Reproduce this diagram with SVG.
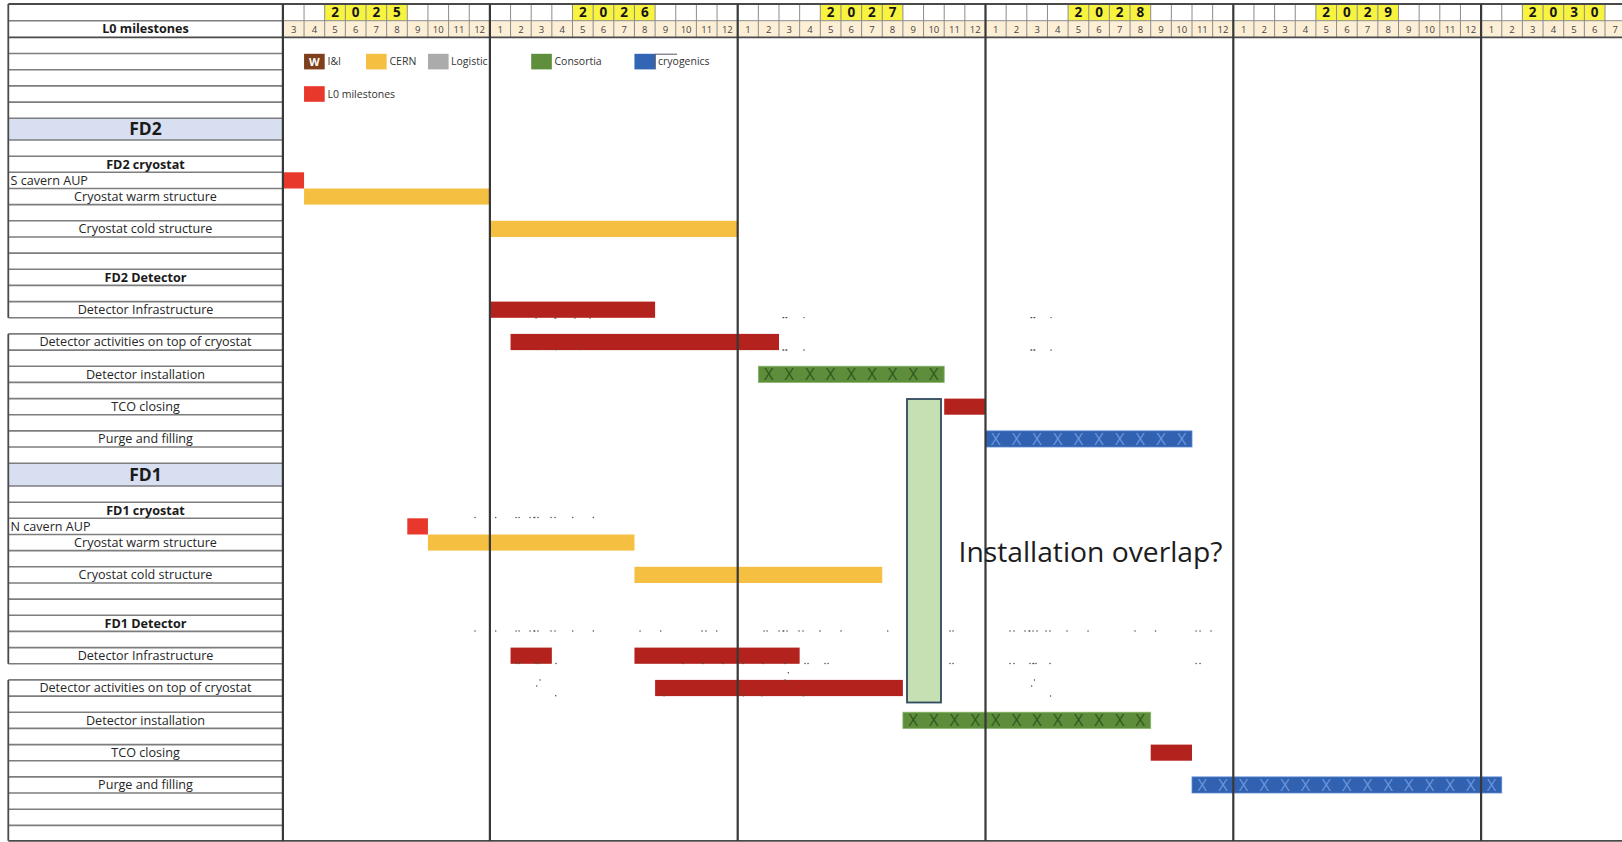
<svg xmlns="http://www.w3.org/2000/svg" width="1622" height="842" viewBox="0 0 1622 842">
<defs>
<style>
.t{font-family:'Open Sans','Liberation Sans',sans-serif;fill:#262626}
.lbl{font-size:12.6px;text-anchor:middle}
.lft{font-size:12.6px}
.b{font-weight:700;fill:#1a1a1a}
.fd{font-size:17.5px;font-weight:700;fill:#1a1a1a;text-anchor:middle}
.mo{font-size:9.5px;fill:#444444;text-anchor:middle}
.yr{font-size:13.5px;font-weight:700;fill:#151515;text-anchor:middle}
.lg{font-size:10.5px;fill:#333}
.xg{font-size:16.5px;text-anchor:middle;fill:#30591c}
.xb{font-size:16.5px;text-anchor:middle;fill:#6a96dc}
.hl{stroke:#7d7d7d;stroke-width:1.6;fill:none}
.hg{stroke:#8c8c8c;stroke-width:1;fill:none}
.dk{stroke:#4a4a4a;stroke-width:1.8;fill:none}
.yl{stroke:#383838;stroke-width:2.2;fill:none}
.yellow{fill:#f5bf42}
.red{fill:#e8372b}
.dred{fill:#b3221c}
.green{fill:#5e8e3c;stroke:#88b46c;stroke-width:0.8}
.blue{fill:#3161b1;stroke:#5d8ad3;stroke-width:0.8}
.dots{stroke:#4d4d4d;stroke-width:1.4;stroke-linecap:round;fill:none}
</style>
<clipPath id="clipLog"><rect x="440" y="50" width="49" height="25"/></clipPath>
</defs>
<rect x="0" y="0" width="1622" height="842" fill="#ffffff"/>

<g id="label-column">
<rect x="8.3" y="118.3" width="274.4" height="21.7" fill="#d7dff0"/>
<rect x="8.3" y="463.2" width="274.4" height="22.8" fill="#d7dff0"/>
<path class="hl" d="M8.3 20.7H282.7M8.3 53.5H282.7M8.3 69.7H282.7M8.3 85.9H282.7M8.3 102.1H282.7M8.3 118.3H282.7M8.3 140H282.7M8.3 156.2H282.7M8.3 172.3H282.7M8.3 188.5H282.7M8.3 204.6H282.7M8.3 220.8H282.7M8.3 237H282.7M8.3 253.1H282.7M8.3 269.3H282.7M8.3 285.4H282.7M8.3 301.6H282.7M8.3 317.8H282.7M8.3 333.9H282.7M8.3 350.1H282.7M8.3 366.2H282.7M8.3 382.4H282.7M8.3 398.6H282.7M8.3 414.7H282.7M8.3 430.9H282.7M8.3 447H282.7M8.3 463.2H282.7M8.3 486H282.7M8.3 502.2H282.7M8.3 518.3H282.7M8.3 534.5H282.7M8.3 550.6H282.7M8.3 566.8H282.7M8.3 583H282.7M8.3 599.1H282.7M8.3 615.3H282.7M8.3 631.4H282.7M8.3 647.6H282.7M8.3 663.8H282.7M8.3 679.9H282.7M8.3 696.1H282.7M8.3 712.2H282.7M8.3 728.4H282.7M8.3 744.6H282.7M8.3 760.7H282.7M8.3 776.9H282.7M8.3 793H282.7M8.3 809.2H282.7M8.3 825.4H282.7"/>
<path class="dk" d="M8.3 4V317.8M8.3 333.9V663.8M8.3 679.9V840.8"/>
<text class="t lbl b" x="145.5" y="33.2">L0 milestones</text>
<text class="t fd" x="145.5" y="135.3">FD2</text>
<text class="t lbl b" x="145.5" y="168.6">FD2 cryostat</text>
<text class="t lft" x="10.5" y="184.7">S cavern AUP</text>
<text class="t lbl" x="145.5" y="200.9">Cryostat warm structure</text>
<text class="t lbl" x="145.5" y="233.2">Cryostat cold structure</text>
<text class="t lbl b" x="145.5" y="281.7">FD2 Detector</text>
<text class="t lbl" x="145.5" y="314">Detector Infrastructure</text>
<text class="t lbl" x="145.5" y="346.3">Detector activities on top of cryostat</text>
<text class="t lbl" x="145.5" y="378.6">Detector installation</text>
<text class="t lbl" x="145.5" y="411">TCO closing</text>
<text class="t lbl" x="145.5" y="443.3">Purge and filling</text>
<text class="t fd" x="145.5" y="481">FD1</text>
<text class="t lbl b" x="145.5" y="514.6">FD1 cryostat</text>
<text class="t lft" x="10.5" y="530.7">N cavern AUP</text>
<text class="t lbl" x="145.5" y="546.9">Cryostat warm structure</text>
<text class="t lbl" x="145.5" y="579.2">Cryostat cold structure</text>
<text class="t lbl b" x="145.5" y="627.7">FD1 Detector</text>
<text class="t lbl" x="145.5" y="660">Detector Infrastructure</text>
<text class="t lbl" x="145.5" y="692.3">Detector activities on top of cryostat</text>
<text class="t lbl" x="145.5" y="724.6">Detector installation</text>
<text class="t lbl" x="145.5" y="757">TCO closing</text>
<text class="t lbl" x="145.5" y="789.3">Purge and filling</text>
</g>

<g id="timeline-header">
<rect x="283.4" y="20.7" width="1338.6" height="16.6" fill="#fcefd6"/>
<rect x="324.7" y="4.5" width="82.6" height="16.2" fill="#f7f33e"/>
<rect x="572.5" y="4.5" width="82.6" height="16.2" fill="#f7f33e"/>
<rect x="820.3" y="4.5" width="82.6" height="16.2" fill="#f7f33e"/>
<rect x="1068.1" y="4.5" width="82.6" height="16.2" fill="#f7f33e"/>
<rect x="1315.9" y="4.5" width="82.6" height="16.2" fill="#f7f33e"/>
<rect x="1522.4" y="4.5" width="82.6" height="16.2" fill="#f7f33e"/>
<path class="hg" d="M283.4 20.7H1622M304.05 4V37.3M324.7 4V37.3M345.35 4V37.3M366 4V37.3M386.65 4V37.3M407.3 4V37.3M427.95 4V37.3M448.6 4V37.3M469.25 4V37.3M510.55 4V37.3M531.2 4V37.3M551.85 4V37.3M572.5 4V37.3M593.15 4V37.3M613.8 4V37.3M634.45 4V37.3M655.1 4V37.3M675.75 4V37.3M696.4 4V37.3M717.05 4V37.3M758.35 4V37.3M779 4V37.3M799.65 4V37.3M820.3 4V37.3M840.95 4V37.3M861.6 4V37.3M882.25 4V37.3M902.9 4V37.3M923.55 4V37.3M944.2 4V37.3M964.85 4V37.3M1006.15 4V37.3M1026.8 4V37.3M1047.45 4V37.3M1068.1 4V37.3M1088.75 4V37.3M1109.4 4V37.3M1130.05 4V37.3M1150.7 4V37.3M1171.35 4V37.3M1192 4V37.3M1212.65 4V37.3M1253.95 4V37.3M1274.6 4V37.3M1295.25 4V37.3M1315.9 4V37.3M1336.55 4V37.3M1357.2 4V37.3M1377.85 4V37.3M1398.5 4V37.3M1419.15 4V37.3M1439.8 4V37.3M1460.45 4V37.3M1501.75 4V37.3M1522.4 4V37.3M1543.05 4V37.3M1563.7 4V37.3M1584.35 4V37.3M1605 4V37.3"/>
<text class="t yr" x="335.03 355.68 376.33 396.98" y="17.2">2025</text>
<text class="t yr" x="582.83 603.48 624.13 644.78" y="17.2">2026</text>
<text class="t yr" x="830.63 851.28 871.93 892.58" y="17.2">2027</text>
<text class="t yr" x="1078.43 1099.08 1119.73 1140.38" y="17.2">2028</text>
<text class="t yr" x="1326.23 1346.88 1367.53 1388.18" y="17.2">2029</text>
<text class="t yr" x="1532.73 1553.38 1574.03 1594.68" y="17.2">2030</text>
<text class="t mo" y="33.3"><tspan x="293.73">3</tspan><tspan x="314.38">4</tspan><tspan x="335.03">5</tspan><tspan x="355.68">6</tspan><tspan x="376.33">7</tspan><tspan x="396.98">8</tspan><tspan x="417.63">9</tspan><tspan x="438.28">10</tspan><tspan x="458.93">11</tspan><tspan x="479.58">12</tspan><tspan x="500.23">1</tspan><tspan x="520.88">2</tspan><tspan x="541.53">3</tspan><tspan x="562.18">4</tspan><tspan x="582.83">5</tspan><tspan x="603.48">6</tspan><tspan x="624.13">7</tspan><tspan x="644.78">8</tspan><tspan x="665.43">9</tspan><tspan x="686.08">10</tspan><tspan x="706.73">11</tspan><tspan x="727.38">12</tspan><tspan x="748.03">1</tspan><tspan x="768.68">2</tspan><tspan x="789.33">3</tspan><tspan x="809.98">4</tspan><tspan x="830.63">5</tspan><tspan x="851.28">6</tspan><tspan x="871.93">7</tspan><tspan x="892.58">8</tspan><tspan x="913.23">9</tspan><tspan x="933.88">10</tspan><tspan x="954.53">11</tspan><tspan x="975.18">12</tspan><tspan x="995.83">1</tspan><tspan x="1016.48">2</tspan><tspan x="1037.13">3</tspan><tspan x="1057.78">4</tspan><tspan x="1078.43">5</tspan><tspan x="1099.08">6</tspan><tspan x="1119.73">7</tspan><tspan x="1140.38">8</tspan><tspan x="1161.03">9</tspan><tspan x="1181.68">10</tspan><tspan x="1202.33">11</tspan><tspan x="1222.98">12</tspan><tspan x="1243.63">1</tspan><tspan x="1264.28">2</tspan><tspan x="1284.93">3</tspan><tspan x="1305.58">4</tspan><tspan x="1326.23">5</tspan><tspan x="1346.88">6</tspan><tspan x="1367.53">7</tspan><tspan x="1388.18">8</tspan><tspan x="1408.83">9</tspan><tspan x="1429.48">10</tspan><tspan x="1450.13">11</tspan><tspan x="1470.78">12</tspan><tspan x="1491.43">1</tspan><tspan x="1512.08">2</tspan><tspan x="1532.73">3</tspan><tspan x="1553.38">4</tspan><tspan x="1574.03">5</tspan><tspan x="1594.68">6</tspan><tspan x="1615.33">7</tspan></text>
</g>

<g id="legend">
<rect x="304.05" y="53.8" width="20.65" height="15.6" fill="#7f3f1c"/>
<text class="t" x="314.4" y="65.6" font-size="11" font-weight="700" text-anchor="middle" style="fill:#ffffff">W</text>
<text class="t lg" x="327.5" y="65.3">I&amp;I</text>
<rect x="366" y="53.8" width="20.65" height="15.6" class="yellow"/>
<text class="t lg" x="389.5" y="65.3">CERN</text>
<rect x="427.95" y="53.8" width="20.65" height="15.6" fill="#ababab"/>
<text class="t lg" x="451" y="65.3" clip-path="url(#clipLog)">Logistic</text>
<rect x="531.2" y="53.8" width="20.65" height="15.6" fill="#5f8f3c"/>
<text class="t lg" x="554.5" y="65.3">Consortia</text>
<rect x="634.45" y="53.8" width="20.65" height="15.6" fill="#3365b5"/>
<path d="M655.3 53.8V69.4M655.3 54.2H677" stroke="#556" stroke-width="1" fill="none"/>
<text class="t lg" x="658" y="65.3">cryogenics</text>
<rect x="304.05" y="86.2" width="20.65" height="15.6" class="red"/>
<text class="t lg" x="327.5" y="97.6">L0 milestones</text>
</g>

<g id="fd2-bars">
<g id="fd2-s-cavern-aup"><rect class="red" x="283.4" y="172.3" width="20.65" height="16.2"/></g>
<g id="fd2-warm"><rect class="yellow" x="304.05" y="188.5" width="185.85" height="16.1"/></g>
<g id="fd2-cold"><rect class="yellow" x="489.9" y="220.8" width="247.8" height="16.2"/></g>
<g id="fd2-det-infra"><rect class="dred" x="489.9" y="301.6" width="165.2" height="16.2"/></g>
<g id="fd2-det-act"><rect class="dred" x="510.55" y="333.9" width="268.45" height="16.2"/></g>
<g id="fd2-det-inst"><rect class="green" x="758.35" y="366.2" width="185.85" height="16.2"/>
<text class="t xg" x="768.68 789.33 809.98 830.63 851.28 871.93 892.58 913.23 933.88" y="380.4">XXXXXXXXX</text></g>
<g id="fd2-tco"><rect class="dred" x="944.2" y="398.6" width="41.3" height="16.1"/></g>
<g id="fd2-purge"><rect class="blue" x="985.5" y="430.9" width="206.5" height="16.1"/>
<text class="t xb" x="995.83 1016.48 1037.13 1057.78 1078.43 1099.08 1119.73 1140.38 1161.03 1181.68" y="445">XXXXXXXXXX</text></g>
</g>

<g id="fd1-bars">
<g id="fd1-n-cavern-aup"><rect class="red" x="407.3" y="518.3" width="20.65" height="16.2"/></g>
<g id="fd1-warm"><rect class="yellow" x="427.95" y="534.5" width="206.5" height="16.1"/></g>
<g id="fd1-cold"><rect class="yellow" x="634.45" y="566.8" width="247.8" height="16.2"/></g>
<g id="fd1-det-infra"><rect class="dred" x="510.55" y="647.6" width="41.3" height="16.2"/><rect class="dred" x="634.45" y="647.6" width="165.2" height="16.2"/></g>
<g id="fd1-det-act"><rect class="dred" x="655.1" y="679.9" width="247.8" height="16.2"/></g>
<g id="fd1-det-inst"><rect class="green" x="902.9" y="712.2" width="247.8" height="16.2"/>
<text class="t xg" x="913.23 933.88 954.53 975.18 995.83 1016.48 1037.13 1057.78 1078.43 1099.08 1119.73 1140.38" y="726.4">XXXXXXXXXXXX</text></g>
<g id="fd1-tco"><rect class="dred" x="1150.7" y="744.6" width="41.3" height="16.1"/></g>
<g id="fd1-purge"><rect class="blue" x="1192" y="776.9" width="309.75" height="16.1"/>
<text class="t xb" x="1202.33 1222.98 1243.63 1264.28 1284.93 1305.58 1326.23 1346.88 1367.53 1388.18 1408.83 1429.48 1450.13 1470.78 1491.43" y="791">XXXXXXXXXXXXXXX</text></g>
</g>

<g id="frame">
<path class="dk" d="M8.3 4H1622M8.3 37.3H1622M8.3 840.8H1622"/>
<path class="yl" d="M282.9 4V841M489.9 4V841M737.7 4V841M985.5 4V841M1233.3 4V841M1481.1 4V841"/>
</g>

<path class="dots" d="M783 317.6h0.8M786 317.6h0.8M804 317.6h0.1M1031 317.6h0.8M1034 317.6h0.8M1051 317.6h0.1M783 350h0.8M786 350h0.8M804 350h0.1M1031 350h0.8M1034 350h0.8M1051 350h0.1M536 318h0.1M555 318h0.8M575 318h0.1M590 318h0.1M538 349.6h0.1M556 349.6h0.8M580 349.6h0.1M475 517.5h0.1M495.7 517.5h0.1M516 517.5h0.1M519 517.5h0.1M530 517.5h0.1M534 517.5h0.8M538 517.5h0.1M551 517.5h0.1M555 517.5h0.1M572.7 517.5h0.1M593.3 517.5h0.1M475 631h0.1M495.7 631h0.1M516 631h0.1M519 631h0.1M530 631h0.1M534 631h0.8M538 631h0.1M551 631h0.1M555 631h0.1M572.7 631h0.1M593.3 631h0.1M640 631h0.1M660.7 631h0.1M702 631h0.1M706 631h0.1M716.7 631h0.1M764 631h0.1M767 631h0.1M779 631h0.1M783 631h0.8M787 631h0.1M799 631h0.1M803 631h0.1M820 631h0.1M841 631h0.1M887.7 631h0.1M950 631h0.1M953 631h0.1M1010 631h0.1M1014 631h0.1M1025 631h0.1M1029 631h0.8M1033 631h0.1M1037 631h0.1M1046 631h0.1M1050 631h0.1M1067 631h0.1M1088 631h0.1M1135 631h0.1M1155.5 631h0.1M1196 631h0.1M1200 631h0.1M1211 631h0.1M516 663.5h0.1M519 663.5h0.1M536 663.5h0.1M539 663.5h0.1M556 663.5h0.1M683 663.5h0.1M703 663.5h0.1M723 663.5h0.1M743 663.5h0.1M763 663.5h0.1M785 663.5h0.1M805 663.5h0.1M808 663.5h0.1M825 663.5h0.1M828 663.5h0.1M950 663.5h0.1M953 663.5h0.1M1010 663.5h0.1M1014 663.5h0.1M1030 663.5h0.1M1033 663.5h0.8M1036 663.5h0.1M1050 663.5h0.1M1196 663.5h0.1M1200 663.5h0.1M540 680h0.1M536.7 686h0.1M555.7 695.7h0.1M788.3 672.7h0.1M785 680h0.1M1034.4 680h0.1M1031.6 686h0.1M1050.5 696h0.1M664 695.7h0.1M743.3 695.7h0.1M761.7 695.7h0.1M803.3 695.7h0.1"/>

<g id="installation-overlap">
<rect x="907" y="399" width="34" height="303.5" fill="#c6e0b4" stroke="#2f4a60" stroke-width="1.8"/>
</g>
<text id="overlap-label" x="958.5" y="562.3" font-family="'Open Sans','Liberation Sans',sans-serif" font-size="27.5" fill="#1c1c1c" textLength="264" lengthAdjust="spacingAndGlyphs">Installation overlap?</text>
</svg>
